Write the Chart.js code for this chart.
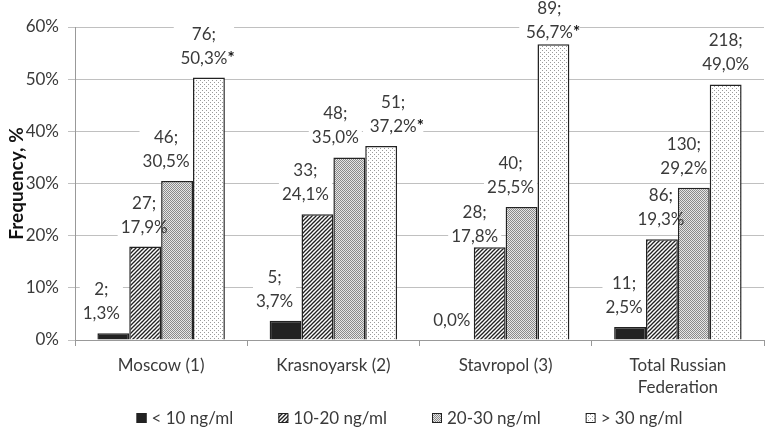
<!DOCTYPE html>
<html><head><meta charset="utf-8">
<script src="https://cdn.jsdelivr.net/npm/chart.js@4/dist/chart.umd.min.js"></script>
<style>html,body{margin:0;padding:0;background:#fff}#wrap{width:767px;height:433px}</style>
</head><body><div id="wrap"><canvas id="c" width="767" height="433"></canvas></div>
<script>
const categories = ["Moscow (1)", "Krasnoyarsk (2)", "Stavropol (3)", ["Total Russian", "Federation"]];
const seriesNames = ["< 10 ng/ml", "10-20 ng/ml", "20-30 ng/ml", "> 30 ng/ml"];
const pctLt10 = [1.3, 3.7, 0.0, 2.5];
const pct10to20 = [17.9, 24.1, 17.8, 19.3];
const pct20to30 = [30.5, 35.0, 25.5, 29.2];
const pctGt30 = [50.3, 37.2, 56.7, 49.0];
const cntLt10 = [2, 5, 0, 11];
const cnt10to20 = [27, 33, 28, 86];
const cnt20to30 = [46, 48, 40, 130];
const cntGt30 = [76, 51, 89, 218];
const starGt30 = [true, true, true, false];
const yTicks = [0, 10, 20, 30, 40, 50, 60];

// label nudges (style only), [series][category]
const labelDx = [[-12, -11, -6, -6], [-1, -12, -15, -1], [-11, -14, -11, -10], [-5, 12, -4, 0]];
const labelDy = [[0, 0, 0, 0], [0, 0, 9, 0], [0, 0, 0, 0], [0, 0, 0, 0]];

function makePattern(kind){
  const s = document.createElement('canvas');
  const c = s.getContext('2d');
  if(kind==='hatch'){
    s.width=4; s.height=4;
    c.fillStyle='#fff'; c.fillRect(0,0,4,4);
    c.strokeStyle='#222'; c.lineWidth=1.3;
    c.beginPath(); c.moveTo(-1,5); c.lineTo(5,-1); c.stroke();
    c.beginPath(); c.moveTo(-1,1); c.lineTo(1,-1); c.stroke();
    c.beginPath(); c.moveTo(3,5); c.lineTo(5,3); c.stroke();
  } else if(kind==='dense'){
    s.width=2; s.height=2;
    c.fillStyle='#e6e6e6'; c.fillRect(0,0,2,2);
    c.fillStyle='#8a8a8a'; c.fillRect(0,0,1,1); c.fillRect(1,1,1,1);
  } else {
    s.width=4; s.height=4;
    c.fillStyle='#fff'; c.fillRect(0,0,4,4);
    c.fillStyle='#9a9a9a'; c.fillRect(0,0,1,1); c.fillRect(2,2,1,1);
  }
  return c.createPattern(s,'repeat');
}
const fills = ['#222', makePattern('hatch'), makePattern('dense'), makePattern('sparse')];
const pcts = [pctLt10, pct10to20, pct20to30, pctGt30];
const cnts = [cntLt10, cnt10to20, cnt20to30, cntGt30];
const FONT = 'Lato, "Open Sans", sans-serif';
const TXT = '#3a3a3a';
const LINE = 24;

const datasets = pcts.map((d,i)=>({
  label: seriesNames[i], data: d, backgroundColor: fills[i],
  borderColor: '#222', borderWidth: 1.5,
  categoryPercentage: 0.74, barPercentage: 1.0
}));

function labelLayout(chart, ctx){
  const out = [];
  chart.data.datasets.forEach((ds,di)=>{
    const meta = chart.getDatasetMeta(di);
    meta.data.forEach((bar,i)=>{
      const v = pcts[di][i];
      const pctStr = v.toFixed(1).replace('.', ',') + '%';
      const star = di===3 && starGt30[i];
      const x = bar.x + labelDx[di][i];
      let yb = Math.max(bar.y - 14 + labelDy[di][i], 38);
      const zero = cnts[di][i]===0;
      if(zero) yb = bar.y - 14;
      ctx.font = '17px ' + FONT;
      const w2 = ctx.measureText(pctStr).width;
      ctx.font = 'bold 17px ' + FONT;
      const ws = star ? ctx.measureText('*').width : 0;
      ctx.font = '17px ' + FONT;
      const line1 = zero ? null : cnts[di][i] + ';';
      const w1 = line1 ? ctx.measureText(line1).width : 0;
      out.push({x, yb, pctStr, star, w2, ws, line1, w1});
    });
  });
  return out;
}

const labelPlugin = {
  id:'lbl',
  beforeDatasetsDraw(chart){
    const ctx = chart.ctx;
    ctx.save();
    ctx.fillStyle = '#fff';
    labelLayout(chart, ctx).forEach(L=>{
      const w = Math.max(L.w1, L.w2 + L.ws) + 6;
      const top = L.line1 ? L.yb - LINE - 15 : L.yb - 15;
      ctx.fillRect(L.x - w/2, top, w, L.yb + 5 - top);
    });
    ctx.restore();
  },
  afterDatasetsDraw(chart){
    const ctx = chart.ctx;
    ctx.save();
    ctx.textBaseline='alphabetic';
    labelLayout(chart, ctx).forEach(L=>{
      ctx.font = '17px ' + FONT;
      ctx.fillStyle = TXT;
      ctx.textAlign='center';
      if(L.line1) ctx.fillText(L.line1, L.x, L.yb - LINE);
      ctx.textAlign='left';
      ctx.fillText(L.pctStr, L.x - L.w2/2, L.yb);
      if(L.star){
        ctx.font = 'bold 17px ' + FONT;
        ctx.fillStyle = '#111';
        ctx.fillText('*', L.x + L.w2/2, L.yb);
      }
    });
    ctx.restore();
  }
};

const legendPlugin = {
  id:'customLegend',
  afterDraw(chart){
    const ctx = chart.ctx;
    ctx.save();
    ctx.font = '17px ' + FONT;
    const box = 10, gapBox = 5, gapItem = 45;
    const items = chart.data.datasets.map(ds=>({ds, w: box + gapBox + ctx.measureText(ds.label).width}));
    const total = items.reduce((a,b)=>a+b.w,0) + gapItem*(items.length-1);
    let x = (chart.chartArea.left + chart.chartArea.right)/2 - total/2 - 10;
    const yc = 418;
    items.forEach(it=>{
      ctx.fillStyle = it.ds.backgroundColor;
      ctx.fillRect(x, yc - box/2, box, box);
      ctx.strokeStyle = '#222'; ctx.lineWidth = 1;
      ctx.strokeRect(x+0.5, yc - box/2 + 0.5, box-1, box-1);
      ctx.fillStyle = TXT; ctx.textAlign='left'; ctx.textBaseline='middle';
      ctx.fillText(it.ds.label, x + box + gapBox, yc + 1);
      x += it.w + gapItem;
    });
    ctx.restore();
  }
};

new Chart(document.getElementById('c'), {
  type:'bar',
  data:{labels: categories, datasets},
  options:{
    responsive:false, animation:false,
    layout:{padding:{left:0, right:3, top:27, bottom:38}},
    plugins:{
      legend:{display:false},
      tooltip:{enabled:false}
    },
    scales:{
      x:{
        afterFit(ax){ ax.height = 55; },
        grid:{offset:true, drawOnChartArea:false, color:'#999', tickLength:6},
        border:{color:'#999'},
        ticks:{color:TXT, font:{family:FONT, size:17, lineHeight:1.3}, padding:8}
      },
      y:{
        min:0, max:60,
        afterBuildTicks(ax){ ax.ticks = yTicks.map(v=>({value:v})); },
        afterFit(ax){ ax.width = 75; },
        grid:{color:'#c0c0c0', tickLength:7},
        border:{color:'#999'},
        ticks:{color:TXT, font:{family:FONT, size:17}, callback:v=>v+'%', padding:9},
        title:{display:true, text:'Frequency, %', color:'#111', font:{family:FONT, size:19, weight:'bold'}, padding:{top:5, bottom:0}}
      }
    }
  },
  plugins:[labelPlugin, legendPlugin]
});
</script></body></html>
